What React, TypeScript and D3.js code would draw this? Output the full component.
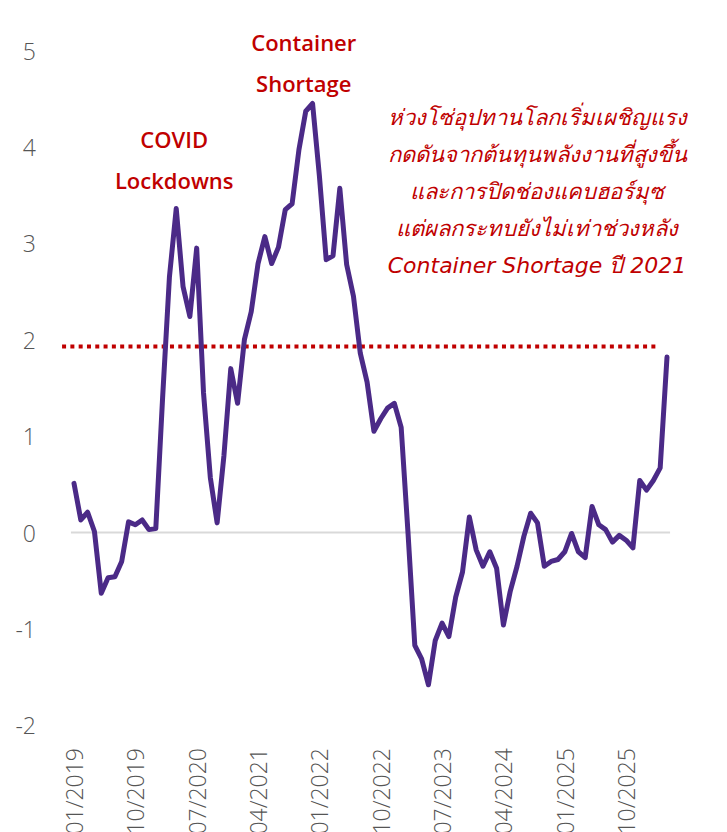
import React from 'react';
import * as d3 from 'd3';

const WIDTH = 727;
const HEIGHT = 832;

// monthly index, 01/2019 .. 04/2026
const START_YEAR = 2019;
const values = [
  0.51, 0.13, 0.21, 0.01, -0.63, -0.47, -0.46, -0.30, 0.11, 0.08, 0.13, 0.03,
  0.04, 1.40, 2.65, 3.36, 2.55, 2.24, 2.95, 1.45, 0.57, 0.10, 0.80, 1.70,
  1.34, 2.00, 2.29, 2.79, 3.07, 2.79, 2.96, 3.35, 3.41, 3.97, 4.37, 4.45,
  3.70, 2.83, 2.87, 3.57, 2.78, 2.45, 1.86, 1.56, 1.05, 1.18, 1.29, 1.34,
  1.09, 0.00, -1.17, -1.31, -1.58, -1.12, -0.94, -1.08, -0.67, -0.41, 0.16, -0.18,
  -0.35, -0.20, -0.37, -0.96, -0.61, -0.35, -0.04, 0.20, 0.10, -0.35, -0.30, -0.28,
  -0.20, -0.01, -0.20, -0.26, 0.27, 0.08, 0.03, -0.10, -0.03, -0.08, -0.16, 0.54,
  0.44, 0.54, 0.67, 1.82,
];
const months = values.map((_, i) => {
  const m = (i % 12) + 1;
  const y = START_YEAR + Math.floor(i / 12);
  return `${String(m).padStart(2, '0')}/${y}`;
});
const tickEvery = 9;
const yTicks = [-2, -1, 0, 1, 2, 3, 4, 5];
const threshold = 1.93;

const annotations = [
  { lines: ['COVID', 'Lockdowns'], at: 15, y: 3.99 },
  { lines: ['Container', 'Shortage'], at: 34, y: 5.0 },
];
const noteLines = [
  'ห่วงโซ่อุปทานโลกเริ่มเผชิญแรง',
  'กดดันจากต้นทุนพลังงานที่สูงขึ้น',
  'และการปิดช่องแคบฮอร์มุซ',
  'แต่ผลกระทบยังไม่เท่าช่วงหลัง',
  'Container Shortage ปี  2021',
];

const RED = '#c00000';
const FONT = '"Open Sans", "Noto Sans", sans-serif';

export default function App() {
  const x = d3.scaleLinear().domain([0, values.length - 1]).range([74, 667]);
  const y = d3.scaleLinear().domain([-2, 5]).range([725.3, 50.5]);

  const line = d3.line<number>()
    .x((_, i) => x(i))
    .y(d => y(d));

  const ticks = d3.range(0, values.length, tickEvery);

  return (
    <svg
      xmlns="http://www.w3.org/2000/svg"
      width={WIDTH}
      height={HEIGHT}
      style={{ position: 'absolute', left: 0, top: 0 }}
      fontFamily={FONT}
    >
      <rect width={WIDTH} height={HEIGHT} fill="#fff" />

      {/* y axis labels */}
      {yTicks.map(t => (
        <text key={t} x={36} y={y(t)} textAnchor="end" dominantBaseline="central"
          fontSize={23} fontWeight={300} fill="#555">
          {t}
        </text>
      ))}

      {/* zero line */}
      <line x1={x(-0.45)} x2={x(87.45)} y1={y(0)} y2={y(0)} stroke="#d9d9d9" strokeWidth={2} />

      {/* threshold */}
      <line x1={x(-1.75)} x2={x(85.6)} y1={y(threshold)} y2={y(threshold)}
        stroke={RED} strokeWidth={4} strokeDasharray="4 4.3" />

      <path d={line(values) ?? ''} fill="none" stroke="#4b2a87" strokeWidth={5}
        strokeLinejoin="round" strokeLinecap="round" />

      {/* x axis labels (cut by the bottom edge, as in the source) */}
      {ticks.map(i => (
        <text key={i} transform={`translate(${x(i)},748) rotate(-90)`}
          textAnchor="end" dominantBaseline="central" fontSize={23} fontWeight={300} fill="#555">
          {months[i]}
        </text>
      ))}

      {annotations.map(a => (
        <text key={a.lines[0]} x={x(a.at) - 2} y={y(a.y)} textAnchor="middle"
          fontSize={22} fontWeight={600} fill={RED}>
          {a.lines.map((l, k) => (
            <tspan key={l} x={x(a.at) - 2} dy={k === 0 ? 0 : 41}>{l}</tspan>
          ))}
        </text>
      ))}

      <text x={537} y={125} textAnchor="middle" fontSize={22} fontStyle="italic" fill={RED}
        fontFamily='"DejaVu Sans", sans-serif'>
        {noteLines.map((l, k) => (
          <tspan key={l} x={537} dy={k === 0 ? 0 : 37}>{l}</tspan>
        ))}
      </text>
    </svg>
  );
}
